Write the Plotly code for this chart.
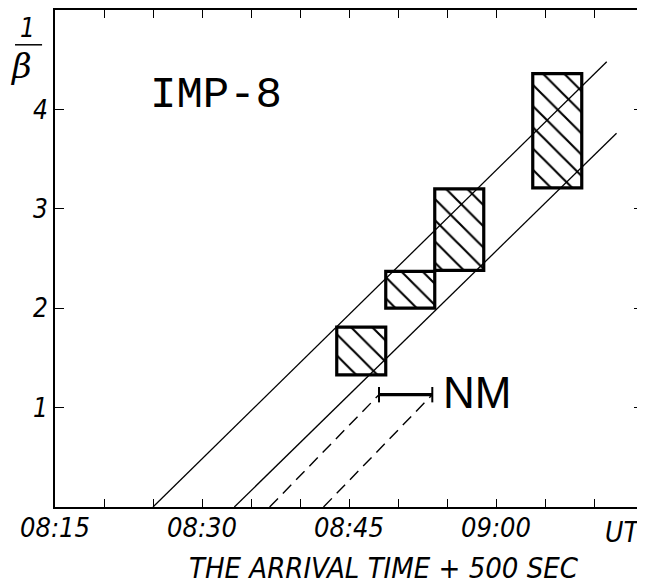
import plotly.graph_objects as go

# ---- data (time in minutes after 08:00 UT, value = 1/beta) ----
box_t_start = [43.75, 48.75, 53.75, 63.75]
box_t_end = [48.75, 53.75, 58.75, 68.75]
box_low = [1.33, 2.00, 2.38, 3.21]
box_high = [1.81, 2.37, 3.20, 4.36]

upper_line_t = [25.0, 71.3]
upper_line_v = [0.0, 4.48]
lower_line_t = [33.3, 72.3]
lower_line_v = [0.0, 3.76]

nm_dash1_t = [36.9, 48.06]
nm_dash1_v = [0.0, 1.13]
nm_dash2_t = [42.4, 53.5]
nm_dash2_v = [0.0, 1.13]
nm_bar_t = [48.06, 53.5]
nm_bar_v = [1.13, 1.13]

x_tick_vals = [15, 20, 25, 30, 35, 40, 45, 50, 55, 60, 65, 70, 75]
x_tick_labels = ["08:15", "", "", "08:30", "", "", "08:45", "", "", "09:00", "", "", ""]
y_tick_vals = [1, 2, 3, 4]
y_tick_labels = ["1", "2", "3", "4"]

ITAL = "DejaVu Sans Condensed, DejaVu Sans, sans-serif"

fig = go.Figure()

# hatched boxes
centers = [(a + b) / 2 for a, b in zip(box_t_start, box_t_end)]
widths = [b - a for a, b in zip(box_t_start, box_t_end)]
heights = [h - l for l, h in zip(box_low, box_high)]
fig.add_trace(go.Bar(
    x=centers, y=heights, base=box_low, width=widths,
    marker=dict(color="white", line=dict(color="black", width=3.2),
                pattern=dict(shape="\\", size=15, solidity=0.14,
                             fgcolor="black", fgopacity=1, bgcolor="white")),
    showlegend=False, hoverinfo="skip",
))

line_style = dict(color="black", width=1.3)
fig.add_trace(go.Scatter(x=upper_line_t, y=upper_line_v, mode="lines",
                         line=line_style, showlegend=False))
fig.add_trace(go.Scatter(x=lower_line_t, y=lower_line_v, mode="lines",
                         line=line_style, showlegend=False))
fig.add_trace(go.Scatter(x=nm_dash1_t, y=nm_dash1_v, mode="lines",
                         line=dict(color="black", width=1.4, dash="12px,7px"),
                         showlegend=False))
fig.add_trace(go.Scatter(x=nm_dash2_t, y=nm_dash2_v, mode="lines",
                         line=dict(color="black", width=1.4, dash="12px,7px"),
                         showlegend=False))
fig.add_trace(go.Scatter(x=nm_bar_t, y=nm_bar_v, mode="lines+markers",
                         line=dict(color="black", width=3.2),
                         marker=dict(symbol="line-ns", size=11,
                                     line=dict(color="black", width=2)),
                         showlegend=False))

# text annotations
fig.add_annotation(x=31.4, y=4.14, xref="x", yref="y", text="IMP-8",
                   showarrow=False, xanchor="center", yanchor="middle",
                   font=dict(family="Liberation Mono", size=44, color="black"))
fig.add_annotation(x=58.06, y=1.15, xref="x", yref="y", text="NM",
                   showarrow=False, xanchor="center", yanchor="middle",
                   font=dict(family="Liberation Sans", size=44, color="black"))
fig.add_annotation(x=1.0, y=-0.015, xref="paper", yref="paper", text="UT",
                   showarrow=False, xanchor="right", yanchor="top",
                   font=dict(family=ITAL, size=28, color="black", style="italic"))
fig.add_annotation(x=48.6, y=-0.122, xref="x", yref="paper",
                   text="THE ARRIVAL TIME + 500 SEC", showarrow=False,
                   xanchor="center", yanchor="middle",
                   font=dict(family=ITAL, size=29, color="black", style="italic"))
# 1/beta label
fig.add_annotation(x=-0.046, y=4.82, xref="paper", yref="y", text="1",
                   showarrow=False, xanchor="center", yanchor="middle",
                   font=dict(family=ITAL, size=26, color="black", style="italic"))
fig.add_annotation(x=-0.058, y=4.44, xref="paper", yref="y", text="β",
                   showarrow=False, xanchor="center", yanchor="middle",
                   font=dict(family="DejaVu Serif", size=34, color="black", style="italic"))
fig.add_shape(type="line", xref="paper", yref="y", x0=-0.068, x1=-0.022,
              y0=4.65, y1=4.65, line=dict(color="black", width=1.5))

fig.update_xaxes(range=[15, 75], tickvals=x_tick_vals, ticktext=x_tick_labels,
                 ticks="inside", ticklen=8, tickwidth=1.3, tickcolor="black",
                 showline=True, linecolor="black", linewidth=1.6, mirror="ticks",
                 showgrid=False, zeroline=False, ticklabelstandoff=-4,
                 tickfont=dict(family=ITAL, size=27, color="black", style="italic"))
fig.update_yaxes(range=[0, 5], tickvals=y_tick_vals, ticktext=y_tick_labels,
                 ticks="inside", ticklen=9, tickwidth=1.3, tickcolor="black",
                 showline=True, linecolor="black", linewidth=1.6, mirror="ticks",
                 showgrid=False, zeroline=False,
                 tickfont=dict(family=ITAL, size=26, color="black", style="italic"))

fig.update_layout(width=637, height=578, plot_bgcolor="white", paper_bgcolor="white",
                  margin=dict(l=47, r=2, t=0, b=79, pad=0), barmode="overlay",
                  showlegend=False)

fig.write_html("out.html")
